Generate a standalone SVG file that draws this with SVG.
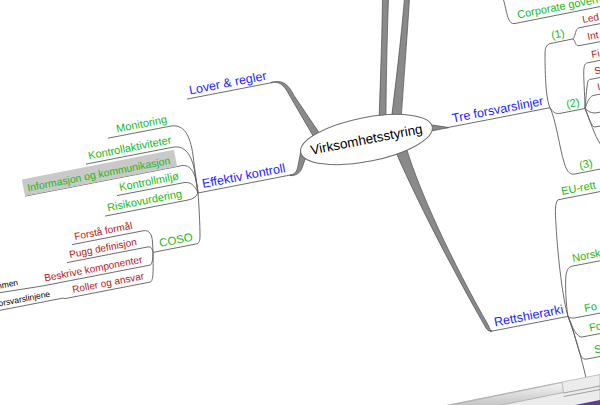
<svg xmlns="http://www.w3.org/2000/svg" width="600" height="405" viewBox="0 0 600 405">
<defs>
<linearGradient id="thumb" x1="0" y1="0" x2="0" y2="1">
<stop offset="0" stop-color="#f4f4f4"/><stop offset="1" stop-color="#c4c4c4"/>
</linearGradient>
</defs>
<style>
text{font-family:"Liberation Sans",Arial,sans-serif}
.b{fill:#1a1aff;font-size:12.5px}
.g{fill:#16b816;font-size:11px}
.r{fill:#b31414;font-size:10px}
.k{fill:#000;font-size:8.5px}
.c{fill:#000;font-size:13.5px}
.thin{fill:none;stroke:#5c5c5c;stroke-width:0.9}
.thick{fill:#8a8a8a;stroke:#4e4e4e;stroke-width:0.7}
</style>
<rect width="600" height="405" fill="#fff"/>

<g id="connectors">
<path class="thick" d="M382.5,-2 L388.5,-2 C387,40 386,90 386,122 L379,122 C380,90 382,40 382.5,-2 Z"/>
<path class="thick" d="M404.5,-2 L409.5,-2 C407,40 403,90 401,122 L391,122 C395,90 401,40 404.5,-2 Z"/>
<path class="thick" d="M271,82.8 C281,80.5 285,87 291,98 L316,141 L322,137 L294,95.5 C288,84 283,79.5 271,82.3 Z"/>
<path class="thick" d="M290,175 C295,174.5 297,171 298,166 L301,150 L308,151 L302,168 C300,173 296,176 290,175.6 Z"/>
<path class="thick" d="M426,124 L449,127.6 L426,132 Z"/>
<path class="thick" d="M395,150 C412,190 448,262 486,328 Q488,331.8 492,331.2 Q488.5,329 489,326.5 C452,262 419,190 407,150 Z"/>
<path class="thin" d="M187,99.1 L272,82.6"/>
<path class="thin" d="M198,193 L292,174.7"/>
<path class="thin" d="M108,138.2 L170,126.2 C184,123.5 190,135 193,155 C195,172 197,185 198,193"/>
<path class="thin" d="M86,164.1 L173,147.2 C185,145 191,155 194,168 C196,180 197,188 198,193"/>
<path class="thin" d="M25,196.1 L182,165.6 C190,164.5 194,172 196,180 C197,186 198,190 198,193"/>
<path class="thin" d="M117,195.6 L184,182.6 C191,181.5 195,186 198,193"/>
<path class="thin" d="M105,216.1 L188,200 C193,199 196,197 198,193"/>
<path class="thin" d="M198,193 C199,205 200,225 200,236 C200,241 199,243.5 196,244 L153,252.4"/>
<path class="thin" d="M72,244.6 L143,230.8 C150,229.5 152,235 152.5,242 L153,252.4"/>
<path class="thin" d="M67,262.6 L148,246.9 C151,246.4 152.5,249 153,252.4"/>
<path class="thin" d="M-2,293 L43,285.9 L150,265.1 C152,264.7 153,259 153,252.4"/>
<path class="thin" d="M-2,310.7 L63,298.1 L65,298.6 L150,282.1 C153,281.5 153.5,275 153,252.4"/>
<path class="thin" d="M446,127.9 L550,107.7"/>
<path class="thin" d="M550,107.7 C546,100 545,75 545,55 C545,48 546,45 550,43.6 L573,38.9"/>
<path class="thin" d="M550,107.7 C553,112 555,114 560,113.4 L585,108.5"/>
<path class="thin" d="M550,107.7 C556,120 560,150 564,162 C566,170 569,174.5 574,174.2 L600,169.1"/>
<path class="thin" d="M573,38.9 C576,35 575,29 579,27.8 L600,23.7"/>
<path class="thin" d="M573,38.9 C576,42 575,46 579,45.7 L600,41.7"/>
<path class="thin" d="M585,108.5 C585,95 583,75 584,68 C584.5,64 586,63 588,62.8 L600,60.4"/>
<path class="thin" d="M585,108.5 C586,97 587,84 588,81 C589,79.5 590,79.3 591,79.3 L600,77.5"/>
<path class="thin" d="M585,108.5 C587,103 589,97 593,95.5 L600,94.1"/>
<path class="thin" d="M585,108.5 C588,111 590,113 595,113 L601,112"/>
<path class="thin" d="M585,108.5 C588,115 590,124 594,127 L601,126"/>
<path class="thin" d="M585,108.5 C590,120 594,135 601,145"/>
<path class="thin" d="M503,-2 C506,8 507,18 510,21.5 C511.5,23.5 513,24 516,23.3 L600,6.6"/>
<path class="thin" d="M490,331.5 L568,316.4"/>
<path class="thin" d="M568,316.4 C563,300 558,260 556,225 C555,210 555,203 558,199.8 L600,191.6"/>
<path class="thin" d="M568,316.4 C566,305 565,285 566,275 C567,269 569,267 572,266.2 L600,260.8"/>
<path class="thin" d="M568,316.4 C570,318 572,318.5 576,317.7 L600,313.1"/>
<path class="thin" d="M568,316.4 C572,325 574,334 581,337.2 L600,333.6"/>
<path class="thin" d="M568,316.4 C574,330 578,350 581,356 C582,358.5 584,359.5 587,359 L600,356.5"/>
<path class="thin" d="M568,316.4 C575,335 582,360 586,378"/>
</g>

<g id="n-center">
<ellipse cx="366.5" cy="139.5" rx="67" ry="22" transform="rotate(-11 366.5 139.5)" fill="#fff" stroke="#6e6e6e" stroke-width="1"/>
<text class="c" transform="translate(366.5,139.5) rotate(-11)" y="4.5" text-anchor="middle">Virksomhetsstyring</text>
</g>

<g id="n-lover"><text class="b" transform="translate(190,94.5) rotate(-11)">Lover &amp; regler</text></g>
<g id="n-effektiv"><text class="b" transform="translate(203,188) rotate(-11)">Effektiv kontroll</text></g>
<g id="n-monitoring"><text class="g" transform="translate(117,132.5) rotate(-11)">Monitoring</text></g>
<g id="n-kontrollakt"><text class="g" transform="translate(89,159.5) rotate(-11)">Kontrollaktiviteter</text></g>
<g id="n-informasjon">
<rect x="0" y="-17" width="155" height="17" fill="#c9c9c9" transform="translate(25,196.1) rotate(-11)"/>
<text class="g" style="font-size:10.5px" transform="translate(28,191.5) rotate(-11)">Informasjon og kommunikasjon</text>
</g>
<g id="n-kontrollmiljo"><text class="g" transform="translate(120,191) rotate(-11)">Kontrollmiljø</text></g>
<g id="n-risiko"><text class="g" transform="translate(108,211.5) rotate(-11)">Risikovurdering</text></g>
<g id="n-coso"><text class="g" style="font-size:11.5px" transform="translate(160,247) rotate(-11)">COSO</text></g>
<g id="n-forsta"><text class="r" transform="translate(75,240) rotate(-11)">Forstå formål</text></g>
<g id="n-pugg"><text class="r" transform="translate(70,258) rotate(-11)">Pugg definisjon</text></g>
<g id="n-beskrive"><text class="r" transform="translate(45,281.5) rotate(-11)">Beskrive komponenter</text></g>
<g id="n-roller"><text class="r" transform="translate(73,293) rotate(-11)">Roller og ansvar</text></g>
<g id="n-mmen"><text class="k" text-anchor="end" transform="translate(18.5,285) rotate(-11)">mmen</text></g>
<g id="n-forsvarslinjene"><text class="k" text-anchor="end" transform="translate(50.5,296.5) rotate(-11)">orsvarslinjene</text></g>

<g id="n-tre"><text class="b" transform="translate(453,122.5) rotate(-11)">Tre forsvarslinjer</text></g>
<g id="n-corporate"><text class="g" transform="translate(518,18.5) rotate(-11)">Corporate governance</text></g>
<g id="n-1"><text class="g" transform="translate(552,39) rotate(-11)">(1)</text></g>
<g id="n-led"><text class="r" transform="translate(583,23) rotate(-11)">Led</text></g>
<g id="n-int"><text class="r" transform="translate(588,40) rotate(-11)">Int</text></g>
<g id="n-2"><text class="g" transform="translate(567,108) rotate(-11)">(2)</text></g>
<g id="n-fi"><text class="r" transform="translate(592,58) rotate(-11)">Fi</text></g>
<g id="n-s"><text class="r" transform="translate(595,74.5) rotate(-11)">S</text></g>
<g id="n-i"><text class="r" transform="translate(598,90.5) rotate(-11)">I</text></g>
<g id="n-3"><text class="g" transform="translate(580,169) rotate(-11)">(3)</text></g>
<g id="n-eurett"><text class="g" transform="translate(562,195) rotate(-11)">EU-rett</text></g>
<g id="n-retts"><text class="b" transform="translate(495,326.5) rotate(-11)">Rettshierarki</text></g>
<g id="n-norsk"><text class="g" transform="translate(573,262) rotate(-11)">Norsk</text></g>
<g id="n-fo1"><text class="g" transform="translate(585,312) rotate(-11)">Fo</text></g>
<g id="n-fo2"><text class="g" transform="translate(590,331.5) rotate(-11)">Fo</text></g>
<g id="n-s2"><text class="g" transform="translate(595,353.5) rotate(-11)">S</text></g>

<path d="M443,406 L600,374.5 L600,406 Z" fill="#ececec" stroke="#b5b5b5" stroke-width="0.8"/>
<path d="M446,406 L562,382.5 L563.5,392.5 L497,406 Z" fill="url(#thumb)" stroke="#999" stroke-width="0.6"/>
<path d="M563.5,393 L600,386 M563.5,396.5 L600,389.5" stroke="#8c8c8c" stroke-width="0.8" fill="none"/>
<path d="M570,406 L600,400 L600,406 Z" fill="#5a3c9a"/>
</svg>
